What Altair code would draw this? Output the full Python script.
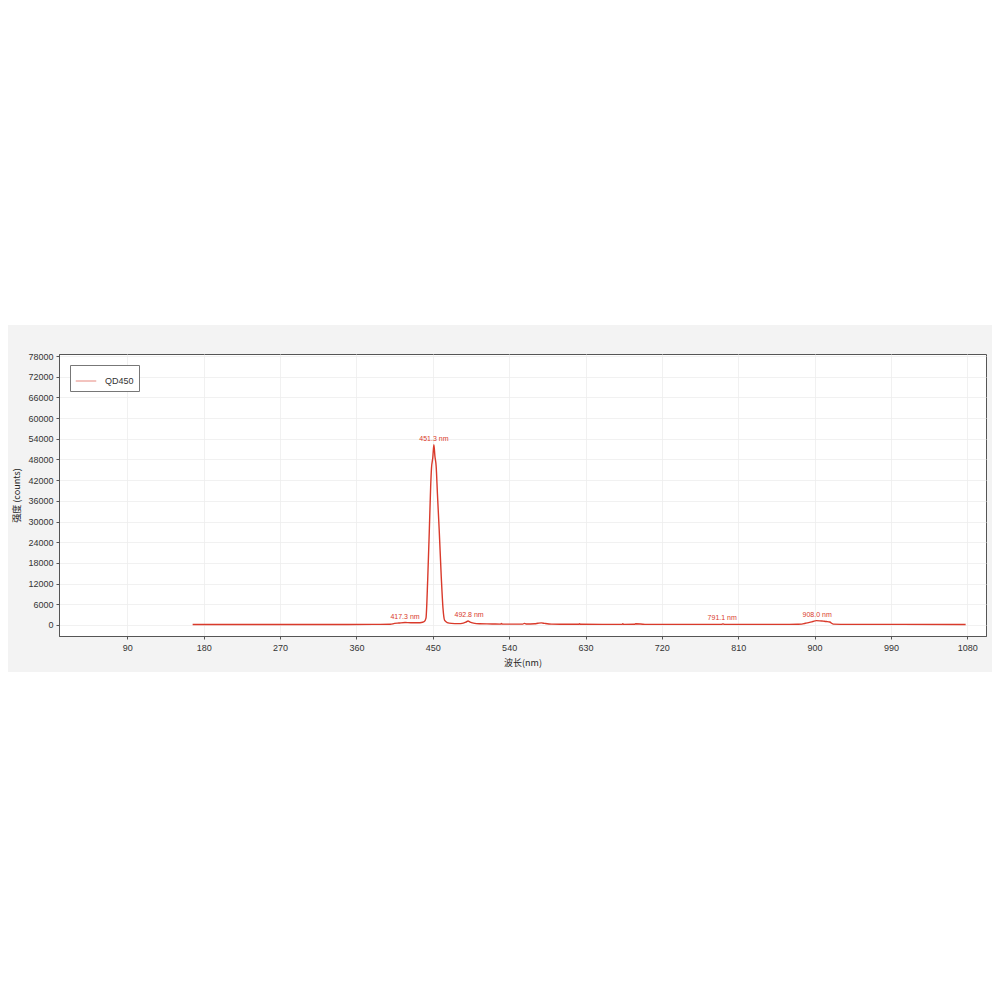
import altair as alt
import pandas as pd

# ---- data ----
wavelength = [167, 200, 250, 300, 350, 380, 400, 405, 410, 417.3, 424, 432, 438, 440, 442, 444,
              446, 447.5, 448.5, 450, 451.3, 452.5, 454, 455.5, 457.5, 460, 462, 464, 467, 472,
              480, 486, 489, 491.6, 494, 498, 505, 520, 530, 531, 532, 545, 556, 558, 560, 570,
              574, 578, 582, 590, 610, 622, 623, 624, 650, 673, 674, 675, 688, 689, 700, 750,
              790, 792, 794, 830, 870, 880, 885, 889, 894, 898, 902, 906, 910, 914, 918, 920,
              922, 940, 1000, 1078]
intensity = [150, 150, 140, 150, 150, 160, 200, 450, 550, 700, 650, 650, 800, 1000, 2000, 13000,
             28000, 40000, 45500, 48500, 52300, 49000, 46000, 38000, 28000, 14000, 5000, 1300, 700, 450,
             400, 550, 800, 1150, 850, 550, 350, 300, 250, 450, 250, 250, 250, 450, 300, 350,
             500, 600, 450, 250, 200, 200, 400, 200, 180, 180, 350, 180, 200, 350, 180, 170,
             170, 300, 170, 160, 170, 200, 250, 500, 750, 1000, 1250, 1200, 1100, 1000, 850, 500,
             250, 170, 160, 150]
series_name = "QD450"

peak_x = [417.3, 451.3, 492.8, 791.1, 903.0]
peak_y = [700, 52300, 1150, 300, 1250]
peak_text = ["417.3 nm", "451.3 nm", "492.8 nm", "791.1 nm", "908.0 nm"]

x_ticks = [90, 180, 270, 360, 450, 540, 630, 720, 810, 900, 990, 1080]
y_ticks = [0, 6000, 12000, 18000, 24000, 30000, 36000, 42000, 48000, 54000, 60000, 66000, 72000, 78000]

spec = pd.DataFrame({"wl": wavelength, "val": intensity, "series": series_name})
peaks = pd.DataFrame({"wl": peak_x, "val": peak_y, "txt": peak_text})

RED = "#d93a2b"
W, H = 927, 282

xscale = alt.Scale(domain=[9.5, 1102], nice=False, zero=False)
yscale = alt.Scale(domain=[-3200, 78600], nice=False, zero=False)

xaxis = alt.Axis(values=x_ticks, format="d", tickSize=3, labelPadding=4,
                 titlePadding=6, grid=True, labelOverlap=False)
yaxis = alt.Axis(values=y_ticks, format="d", tickSize=3, labelPadding=3,
                 titlePadding=6, grid=True, labelOverlap=False, tickCount=14)

# white page area above the grey chart band (decoration only)
top_white = alt.Chart(pd.DataFrame({"a": [0]})).mark_rect(color="white").encode(
    x=alt.value(-60), x2=alt.value(W + 10), y=alt.value(-350), y2=alt.value(-29)
)

line = alt.Chart(spec).mark_line(strokeWidth=1.4, interpolate="monotone").encode(
    x=alt.X("wl:Q", scale=xscale, title="波长(nm)", axis=xaxis),
    y=alt.Y("val:Q", scale=yscale, title="强度 (counts)", axis=yaxis),
    color=alt.Color("series:N", scale=alt.Scale(range=[RED]),
                    legend=alt.Legend(title=None, orient="top-left", offset=11,
                                      symbolType="stroke", symbolSize=420, symbolStrokeWidth=1,
                                      symbolOpacity=0.6, labelFontSize=9, labelColor="#333",
                                      labelOffset=8, strokeColor="#777", fillColor="white",
                                      padding=5, cornerRadius=0)),
)

labels = alt.Chart(peaks).mark_text(color=RED, fontSize=7, baseline="bottom", dy=-3,
                                    font="Liberation Sans").encode(
    x=alt.X("wl:Q", scale=xscale, title="波长(nm)", axis=xaxis),
    y=alt.Y("val:Q", scale=yscale, title="强度 (counts)", axis=yaxis),
    text="txt:N",
)

chart = alt.layer(top_white, line, labels).properties(
    width=W, height=H,
    autosize=alt.AutoSizeParams(type="none"),
    padding={"left": 51, "top": 346, "right": 6, "bottom": 36},
    background="#f3f3f3",
).configure_view(
    fill="white", stroke="#555", strokeWidth=1
).configure_axis(
    domainColor="#555", tickColor="#555", gridColor="#eeeeee", gridWidth=0.8,
    labelFont="Liberation Sans", labelFontSize=9, labelColor="#333", labelOverlap=False,
    titleFont="Noto Sans CJK SC", titleFontSize=9, titleColor="#222", titleFontWeight="normal",
).configure_legend(
    labelFont="Liberation Sans"
)

chart.save("out.html", embed_options={"renderer": "svg", "actions": False})
